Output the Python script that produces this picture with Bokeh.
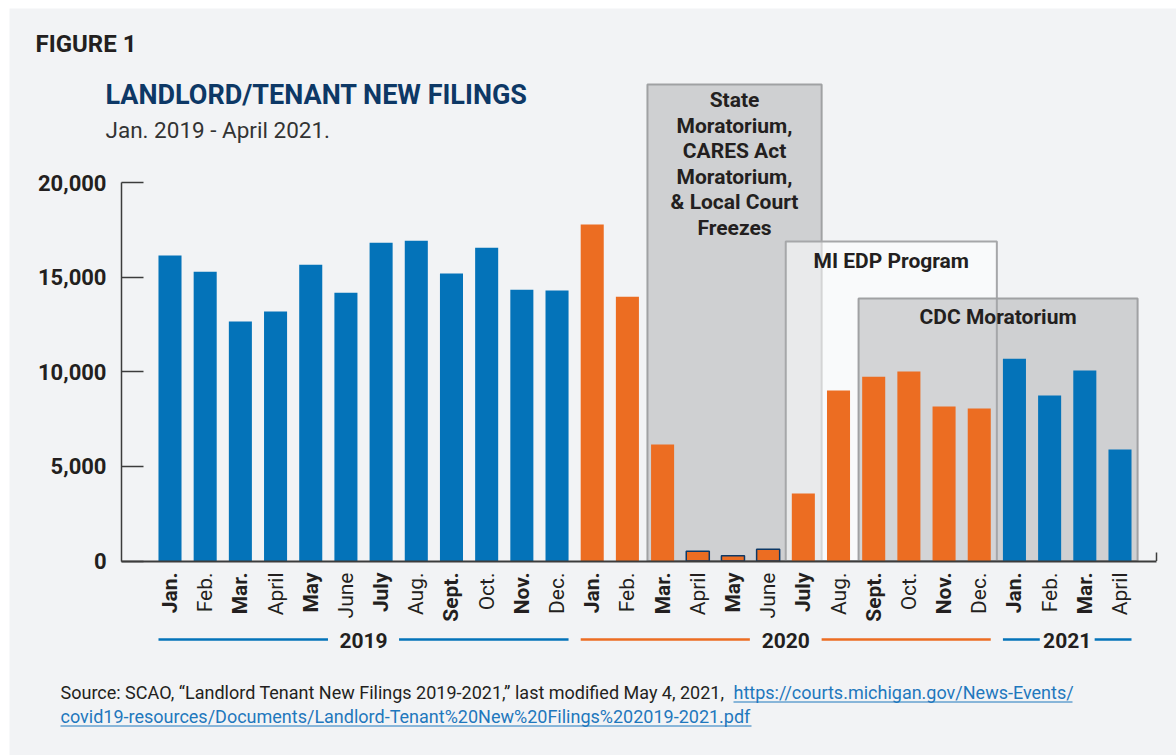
import math
from bokeh.plotting import figure
from bokeh.models import ColumnDataSource, LinearAxis, FixedTicker, NumeralTickFormatter, Range1d
from bokeh.core.properties import value
from bokeh.embed import file_html
from bokeh.resources import INLINE

# ---------------- data ----------------
months = ["Jan.", "Feb.", "Mar.", "April", "May", "June",
          "July", "Aug.", "Sept.", "Oct.", "Nov.", "Dec."]
year_names = ["2019", "2020", "2021"]
year_month_counts = [12, 12, 4]

filings_2019 = [16150, 15300, 12670, 13200, 15670, 14190,
                16830, 16940, 15200, 16570, 14350, 14300]
filings_2020 = [17790, 13980, 6160, 520, 280, 620,
                3570, 9010, 9750, 10020, 8170, 8060]
filings_2021 = [10700, 8750, 10070, 5890]

y_ticks = [0, 5000, 10000, 15000, 20000]

box_labels = [["State", "Moratorium,", "CARES Act", "Moratorium,", "& Local Court", "Freezes"],
              ["MI EDP Program"],
              ["CDC Moratorium"]]
box_first = ["Mar. 2020", "July 2020", "Sept. 2020"]
box_last = ["July 2020", "Dec. 2020", "April 2021"]
box_top = [25200, 16900, 13880]

# ---------------- styling ----------------
BLUE = "#0473b9"
ORANGE = "#ec6d22"
NAVY = "#0d3866"
DARK = "#231f20"
BG = "#f2f3f5"
LINK = "#1f78bd"
AXIS = "#3c3c3c"
FONT = value("Roboto")
year_colors = {"2019": BLUE, "2020": ORANGE, "2021": BLUE}
year_gap = {"2019": 1.01, "2020": 1.02, "2021": 0.78}   # half gap around the year text (bar units)
box_left_pad = [0.43, 0.5, 0.43]
box_right_pad = [0.52, 0.5, 0.5]
box_text_pad = [16, 20, 18.5]                            # px from box top to first text line centre
box_fill = ["#cfd0d2", "#ffffff", "#a5a6a8"]
box_alpha = [1.0, 0.55, 0.45]
box_line = ["#a0a1a3", "#a6a7a9", "#a0a1a3"]

W, H = 1176, 755
ML, MT = 9, 8
X0, DX = 169.5, 35.185          # pixel of the first bar centre, pixels per bar
Y0, DY = 560.5, 18.91 / 1000.0  # pixel of zero, pixels per filing


def xd(px):
    return (px - X0) / DX


def yd(py):
    return (Y0 - py) / DY


# ---------------- derived table ----------------
years = []
month_labels = []
for yname, cnt in zip(year_names, year_month_counts):
    years += [yname] * cnt
    month_labels += months[:cnt]
filings = filings_2019 + filings_2020 + filings_2021
idx = list(range(len(filings)))
keys = [f"{m} {y}" for m, y in zip(month_labels, years)]

bars = ColumnDataSource(dict(
    x=idx, top=filings,
    color=[year_colors[y] for y in years],
))
small = [i for i, v in zip(idx, filings) if v < 1000]
small_src = ColumnDataSource(dict(x=small, top=[filings[i] for i in small]))

p = figure(width=W, height=H,
           x_range=Range1d((ML - X0) / DX, (W - X0) / DX),
           y_range=Range1d(-(H - Y0) / DY, (Y0 - MT) / DY),
           min_border_left=ML, min_border_top=MT, min_border_right=0, min_border_bottom=0,
           x_axis_location=None, y_axis_location=None,
           toolbar_location=None, output_backend="svg",
           background_fill_color=BG, border_fill_color="white",
           outline_line_color=None)
p.xgrid.visible = False
p.ygrid.visible = False

# shaded policy boxes
for k in range(len(box_labels)):
    i0 = keys.index(box_first[k])
    i1 = keys.index(box_last[k])
    p.quad(left=[i0 - box_left_pad[k]], right=[i1 + box_right_pad[k]],
           bottom=[0], top=[box_top[k]],
           fill_color=box_fill[k], fill_alpha=box_alpha[k],
           line_color=box_line[k], line_width=2)

# bars
p.vbar(x="x", top="top", width=0.655, fill_color="color", line_color=None, source=bars)
p.vbar(x="x", top="top", width=0.655, fill_color=None, line_color=NAVY, line_width=1.5,
       source=small_src)

# box labels
for k in range(len(box_labels)):
    i0 = keys.index(box_first[k])
    i1 = keys.index(box_last[k])
    cx = ((i0 - box_left_pad[k]) + (i1 + box_right_pad[k])) / 2
    top_px = Y0 - box_top[k] * DY
    lines = box_labels[k]
    p.text(x=[cx] * len(lines),
           y=[yd(top_px + box_text_pad[k] + 25.5 * j) for j in range(len(lines))],
           text=lines, text_align="center", text_baseline="middle",
           text_font=FONT, text_font_size="21px", text_font_style="bold",
           text_color=DARK)

# axes
y_axis = LinearAxis(fixed_location=xd(121), bounds=(0, 20000),
                    ticker=FixedTicker(ticks=y_ticks),
                    formatter=NumeralTickFormatter(format="0,0"),
                    major_tick_in=22, major_tick_out=0,
                    minor_tick_in=0, minor_tick_out=0,
                    axis_line_color=AXIS, axis_line_width=1.5,
                    major_tick_line_color=AXIS, major_tick_line_width=1.5,
                    major_label_text_font="Roboto", major_label_text_font_style="bold",
                    major_label_text_font_size="22px", major_label_text_color=DARK,
                    major_label_standoff=15)
p.add_layout(y_axis, "left")

x_axis = LinearAxis(fixed_location=0, bounds=(xd(121), xd(1156)),
                    ticker=FixedTicker(ticks=[]),
                    major_tick_in=0, major_tick_out=0,
                    minor_tick_in=0, minor_tick_out=0,
                    axis_line_color=AXIS, axis_line_width=2)
p.add_layout(x_axis, "below")
# small closing tick at the right end of the x axis
p.segment(x0=[xd(1156)], x1=[xd(1156)], y0=[0], y1=[yd(552)], line_color=AXIS, line_width=1.5)

# month labels (alternating bold)
bold_i = [i for i in idx if months.index(month_labels[i]) % 2 == 0]
norm_i = [i for i in idx if months.index(month_labels[i]) % 2 == 1]
for sel, style in ((bold_i, "bold"), (norm_i, "normal")):
    p.text(x=sel, y=[yd(572)] * len(sel), text=[month_labels[i] for i in sel],
           angle=math.pi / 2, text_align="right", text_baseline="middle",
           text_font=FONT, text_font_size="21px", text_font_style=style,
           text_color=DARK)

# year brackets
half_bar = 0.327
for yname in year_names:
    ii = [i for i in idx if years[i] == yname]
    f, l = ii[0], ii[-1]
    c = (f + l) / 2
    g = year_gap[yname]
    yy = yd(639)
    p.segment(x0=[f - half_bar, c + g], x1=[c - g, l + half_bar], y0=[yy, yy], y1=[yy, yy],
              line_color=year_colors[yname], line_width=2.5)
    p.text(x=[c], y=[yd(640)], text=[yname], text_align="center", text_baseline="middle",
           text_font=FONT, text_font_size="21px", text_font_style="bold", text_color=DARK)

# titles
p.text(x=[xd(35)], y=[yd(43.5)], text=["FIGURE 1"], text_baseline="middle",
       text_font=FONT, text_font_size="24px", text_font_style="bold", text_color=DARK)
p.text(x=[xd(105)], y=[yd(94.5)], text=["LANDLORD/TENANT NEW FILINGS"], text_baseline="middle",
       text_font=FONT, text_font_size="27px", text_font_style="bold", text_color=NAVY)
p.text(x=[xd(105)], y=[yd(129)], text=["Jan. 2019 - April 2021."], text_baseline="middle",
       text_font=FONT, text_font_size="22.5px", text_color="#333333")

# source
p.text(x=[xd(60)], y=[yd(692)],
       text=["Source: SCAO, \u201cLandlord Tenant New Filings 2019-2021,\u201d last modified May 4, 2021,"],
       text_baseline="middle", text_font=FONT, text_font_size="18px", text_color=DARK)
p.text(x=[xd(733), xd(60)], y=[yd(692), yd(716)],
       text=["https://courts.michigan.gov/News-Events/",
             "covid19-resources/Documents/Landlord-Tenant%20New%20Filings%202019-2021.pdf"],
       text_baseline="middle", text_font=FONT, text_font_size="18px", text_color=LINK)
p.segment(x0=[xd(733), xd(60)], x1=[xd(1072), xd(751)], y0=[yd(701.5), yd(725.5)],
          y1=[yd(701.5), yd(725.5)], line_color=LINK, line_width=1)

open("out.html", "w").write(file_html(p, INLINE))
